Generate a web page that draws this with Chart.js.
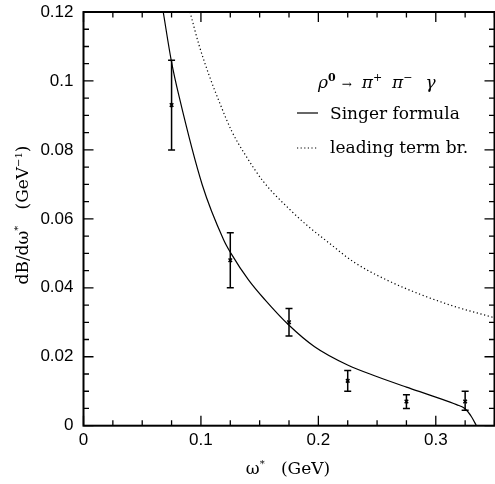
<!DOCTYPE html>
<html>
<head>
<meta charset="utf-8">
<script src="https://cdn.jsdelivr.net/npm/chart.js@4.4.1/dist/chart.umd.min.js"></script>
<style>
  html, body { margin: 0; padding: 0; background: #fff; overflow: hidden; }
  #wrap { width: 500px; height: 484px; }
</style>
</head>
<body>
<div id="wrap"><canvas id="chart"></canvas></div>
<script>
// Singer formula curve
const singerX = [0.0679, 0.0747, 0.0814, 0.1011, 0.1194, 0.1256, 0.1405, 0.1546, 0.1748, 0.1968, 0.2249, 0.2502, 0.275, 0.3, 0.3177, 0.325, 0.3304, 0.3346];
const singerY = [0.12, 0.106, 0.0955, 0.0699, 0.0539, 0.050, 0.0423, 0.0365, 0.0292, 0.0229, 0.0176, 0.0142, 0.0112, 0.0083, 0.0061, 0.0049, 0.0026, 0];

// leading term bremsstrahlung curve
const leadingX = [0.0907, 0.0983, 0.1068, 0.1166, 0.1264, 0.1377, 0.1532, 0.1757, 0.1911, 0.208, 0.2305, 0.2586, 0.2868, 0.3149, 0.3458, 0.35];
const leadingY = [0.12, 0.1105, 0.1018, 0.0931, 0.0853, 0.0786, 0.0708, 0.0627, 0.0579, 0.0533, 0.0474, 0.0422, 0.0381, 0.0347, 0.0317, 0.0313];

// measured points with error bars
const dataX = [0.075, 0.125, 0.175, 0.225, 0.275, 0.325];
const dataY = [0.093, 0.048, 0.030, 0.013, 0.007, 0.007];
const dataLow = [0.080, 0.040, 0.026, 0.010, 0.005, 0.0045];
const dataHigh = [0.106, 0.056, 0.034, 0.016, 0.009, 0.010];

// axes
const xTicks = [0, 0.1, 0.2, 0.3];
const xTickLabels = ['0', '0.1', '0.2', '0.3'];
const yTicks = [0, 0.02, 0.04, 0.06, 0.08, 0.1, 0.12];
const yTickLabels = ['0', '0.02', '0.04', '0.06', '0.08', '0.1', '0.12'];
const xMinorStep = 0.025;
const yMinorStep = 0.005;

const toPoints = (xs, ys) => xs.map((x, i) => ({ x, y: ys[i] }));

const tickFont = '17px "Liberation Sans", sans-serif';
const serif = '"DejaVu Serif", serif';

// draw a row of text pieces, some raised as superscripts, some just gaps
function drawParts(ctx, parts, x, y, align) {
  let total = 0;
  parts.forEach(p => {
    if (p.t) { ctx.font = p.font; p.w = ctx.measureText(p.t).width; } else p.w = p.gap;
    total += p.w;
  });
  let cx = align === 'center' ? x - total / 2 : x;
  ctx.textAlign = 'left';
  ctx.textBaseline = 'alphabetic';
  parts.forEach(p => {
    if (p.t) {
      ctx.font = p.font;
      ctx.fillText(p.t, cx, y - (p.dy || 0));
    }
    cx += p.w;
  });
}

const errorBars = {
  id: 'errorBars',
  afterDatasetsDraw(chart) {
    const { ctx, scales: { x, y } } = chart;
    ctx.save();
    ctx.strokeStyle = '#000';
    ctx.lineWidth = 1.5;
    dataX.forEach((v, i) => {
      const px = x.getPixelForValue(v);
      const lo = y.getPixelForValue(dataLow[i]);
      const hi = y.getPixelForValue(dataHigh[i]);
      ctx.beginPath();
      ctx.moveTo(px, lo); ctx.lineTo(px, hi);
      ctx.moveTo(px - 3.5, lo); ctx.lineTo(px + 3.5, lo);
      ctx.moveTo(px - 3.5, hi); ctx.lineTo(px + 3.5, hi);
      ctx.stroke();
    });
    ctx.restore();
  }
};

const frame = {
  id: 'frame',
  afterDraw(chart) {
    const { ctx, chartArea: a, scales: { x, y } } = chart;
    ctx.save();
    ctx.strokeStyle = '#000';
    ctx.fillStyle = '#000';
    ctx.lineWidth = 2;
    ctx.strokeRect(a.left, a.top, a.right - a.left, a.bottom - a.top);

    // ticks on all four sides, pointing inwards
    ctx.lineWidth = 1.3;
    ctx.beginPath();
    for (let v = 0; v <= x.max + 1e-9; v += xMinorStep) {
      const major = xTicks.some(t => Math.abs(t - v) < 1e-6);
      const len = major ? 10 : 5.5;
      const px = x.getPixelForValue(v);
      ctx.moveTo(px, a.bottom); ctx.lineTo(px, a.bottom - len);
      ctx.moveTo(px, a.top); ctx.lineTo(px, a.top + len);
    }
    for (let v = 0; v <= y.max + 1e-9; v += yMinorStep) {
      const major = yTicks.some(t => Math.abs(t - v) < 1e-6);
      const len = major ? 10 : 5.5;
      const py = y.getPixelForValue(v);
      ctx.moveTo(a.left, py); ctx.lineTo(a.left + len, py);
      ctx.moveTo(a.right, py); ctx.lineTo(a.right - len, py);
    }
    ctx.stroke();

    // tick labels
    ctx.font = tickFont;
    ctx.textAlign = 'center';
    ctx.textBaseline = 'middle';
    xTicks.forEach((v, i) => ctx.fillText(xTickLabels[i], x.getPixelForValue(v), a.bottom + 15));
    ctx.textAlign = 'right';
    yTicks.forEach((v, i) => ctx.fillText(yTickLabels[i], a.left - 10, y.getPixelForValue(v)));

    // x title
    drawParts(ctx, [
      { t: 'ω', font: '17px ' + serif },
      { t: '*', font: '10px ' + serif, dy: 7 },
      { t: '   (GeV)', font: '17px ' + serif }
    ], 288, 474, 'center');

    // y title
    ctx.save();
    ctx.translate(28, 215);
    ctx.rotate(-Math.PI / 2);
    drawParts(ctx, [
      { t: 'dB/dω', font: '17px ' + serif },
      { t: '*', font: '10px ' + serif, dy: 7 },
      { t: '   (GeV', font: '17px ' + serif },
      { t: '−1', font: '10px ' + serif, dy: 6 },
      { t: ')', font: '17px ' + serif }
    ], 0, 0, 'center');
    ctx.restore();

    // legend
    const it = 'italic 17px ' + serif;
    const sup = '11px ' + serif;
    drawParts(ctx, [
      { t: 'ρ', font: it },
      { t: '0', font: 'bold ' + sup, dy: 7 },
      { gap: 6 },
      { t: '→', font: '12px ' + serif },
      { gap: 10 },
      { t: 'π', font: it },
      { t: '+', font: sup, dy: 7 },
      { gap: 10 },
      { t: 'π', font: it },
      { t: '−', font: sup, dy: 7 },
      { gap: 13 },
      { t: 'γ', font: it }
    ], 318, 88, 'left');

    ctx.lineWidth = 1.2;
    ctx.beginPath();
    ctx.moveTo(297, 113); ctx.lineTo(318, 113);
    ctx.stroke();
    ctx.setLineDash([1.2, 2.4]);
    ctx.beginPath();
    ctx.moveTo(297, 148); ctx.lineTo(318, 148);
    ctx.stroke();
    ctx.setLineDash([]);
    drawParts(ctx, [{ t: 'Singer formula', font: '17px ' + serif }], 330, 119, 'left');
    drawParts(ctx, [{ t: 'leading term br.', font: '17px ' + serif }], 330, 153, 'left');
    ctx.restore();
  }
};

new Chart(document.getElementById('chart'), {
  type: 'scatter',
  data: {
    datasets: [
      {
        label: 'Singer formula',
        data: toPoints(singerX, singerY),
        showLine: true,
        borderColor: '#000',
        borderWidth: 1.2,
        pointRadius: 0,
        cubicInterpolationMode: 'monotone'
      },
      {
        label: 'leading term br.',
        data: toPoints(leadingX, leadingY),
        showLine: true,
        borderColor: '#000',
        borderWidth: 1.2,
        borderDash: [1.2, 2.6],
        pointRadius: 0,
        cubicInterpolationMode: 'monotone'
      },
      {
        label: 'data',
        data: toPoints(dataX, dataY),
        showLine: false,
        pointStyle: 'crossRot',
        pointRadius: 2.5,
        borderColor: '#000',
        borderWidth: 1.5
      }
    ]
  },
  options: {
    responsive: true,
    maintainAspectRatio: false,
    animation: false,
    layout: { padding: { left: 83.5, right: 1.7, top: 12, bottom: 58.3 } },
    scales: {
      x: { type: 'linear', min: 0, max: 0.35, display: false },
      y: { type: 'linear', min: 0, max: 0.12, display: false }
    },
    plugins: {
      legend: { display: false },
      tooltip: { enabled: false }
    }
  },
  plugins: [errorBars, frame]
});
</script>
</body>
</html>
